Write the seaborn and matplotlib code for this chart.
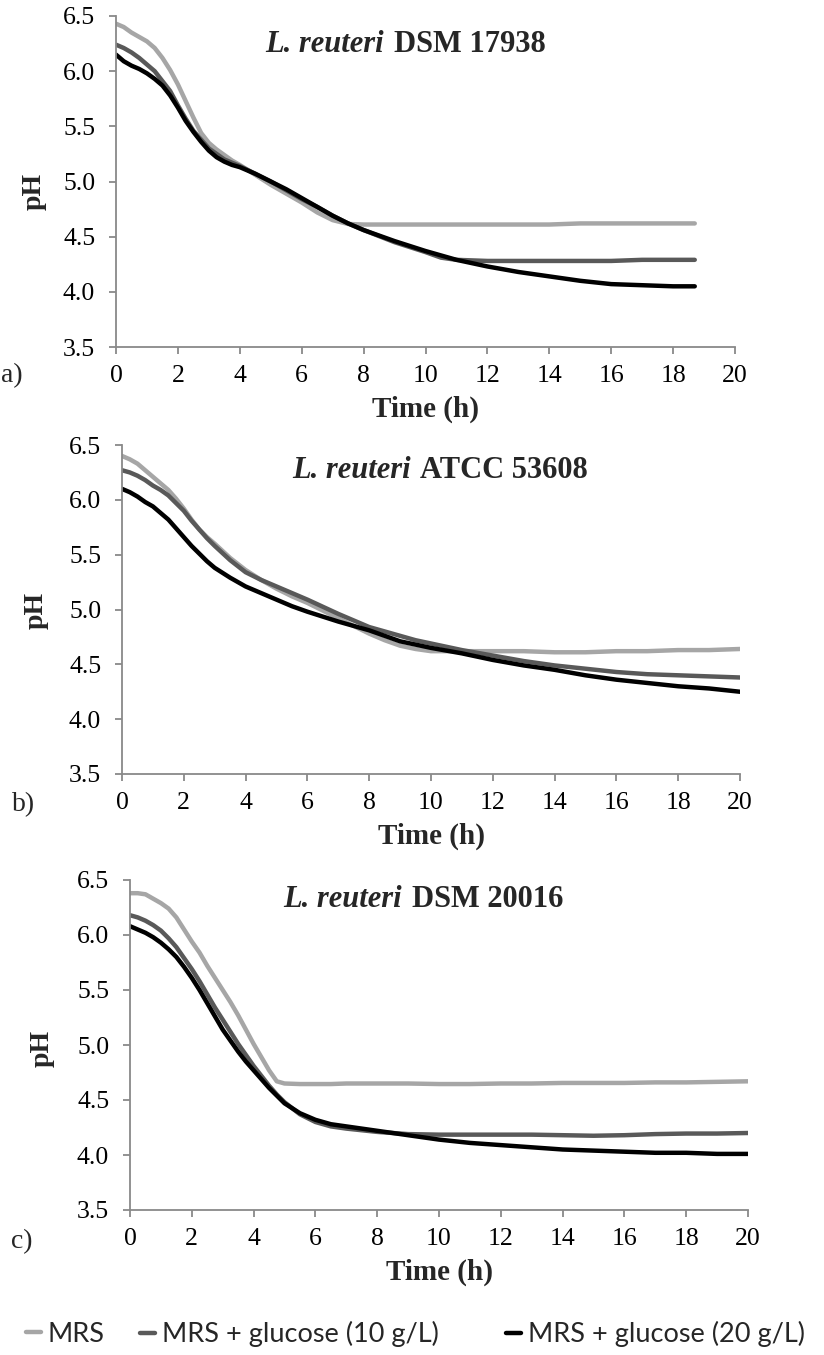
import matplotlib
matplotlib.use("Agg")
import matplotlib.pyplot as plt
from matplotlib.lines import Line2D
import pandas as pd
import seaborn as sns

conditions = ["MRS", "MRS + glucose (10 g/L)", "MRS + glucose (20 g/L)"]
colors = ["#a6a6a6", "#595959", "#000000"]

# Panel a: L. reuteri DSM 17938
time_a = [0, 0.25, 0.5, 0.75, 1, 1.25, 1.5, 1.75, 2, 2.25, 2.5, 2.75, 3, 3.25, 3.5, 3.75, 4,
          4.5, 5, 5.5, 6, 6.5, 7, 7.5, 8, 9, 10, 10.5, 11, 12, 13, 14, 15, 16, 17, 18, 18.7]
mrs_a = [6.43, 6.40, 6.35, 6.31, 6.27, 6.21, 6.12, 6.01, 5.88, 5.73, 5.58, 5.44, 5.35, 5.29, 5.24, 5.19, 5.15,
         5.06, 4.97, 4.89, 4.81, 4.72, 4.65, 4.615, 4.61, 4.61, 4.61, 4.61, 4.61,
         4.61, 4.61, 4.61, 4.62, 4.62, 4.62, 4.62, 4.62]
g10_a = [6.24, 6.21, 6.17, 6.12, 6.06, 6.00, 5.91, 5.82, 5.69, 5.57, 5.46, 5.38, 5.30, 5.25, 5.20, 5.17, 5.14,
         5.07, 5.00, 4.92, 4.84, 4.77, 4.69, 4.62, 4.56, 4.45, 4.36, 4.31, 4.29,
         4.28, 4.28, 4.28, 4.28, 4.28, 4.29, 4.29, 4.29]
g20_a = [6.15, 6.09, 6.05, 6.02, 5.98, 5.93, 5.87, 5.78, 5.67, 5.55, 5.45, 5.36, 5.28, 5.22, 5.18, 5.15, 5.13,
         5.07, 5.00, 4.93, 4.85, 4.77, 4.69, 4.62, 4.56, 4.46, 4.37, 4.33, 4.29,
         4.23, 4.18, 4.14, 4.10, 4.07, 4.06, 4.05, 4.05]

# Panel b: L. reuteri ATCC 53608
time_b = [0, 0.25, 0.5, 0.75, 1, 1.25, 1.5, 1.75, 2, 2.25, 2.5, 2.75, 3,
          3.5, 4, 4.5, 5, 5.5, 6, 7, 8, 8.5, 9, 9.5, 10,
          11, 12, 13, 14, 15, 16, 17, 18, 19, 20]
mrs_b = [6.40, 6.37, 6.33, 6.27, 6.21, 6.15, 6.09, 6.01, 5.92, 5.82, 5.73, 5.66, 5.60,
         5.47, 5.36, 5.27, 5.19, 5.12, 5.06, 4.92, 4.78, 4.72, 4.67, 4.64, 4.62,
         4.62, 4.62, 4.62, 4.61, 4.61, 4.62, 4.62, 4.63, 4.63, 4.64]
g10_b = [6.27, 6.25, 6.22, 6.18, 6.13, 6.09, 6.04, 5.97, 5.90, 5.81, 5.73, 5.65, 5.58,
         5.45, 5.34, 5.27, 5.21, 5.15, 5.09, 4.96, 4.84, 4.80, 4.76, 4.72, 4.69,
         4.63, 4.58, 4.53, 4.49, 4.46, 4.43, 4.41, 4.40, 4.39, 4.38]
g20_b = [6.10, 6.07, 6.03, 5.98, 5.94, 5.88, 5.82, 5.74, 5.66, 5.58, 5.51, 5.44, 5.38,
         5.29, 5.21, 5.15, 5.09, 5.03, 4.98, 4.89, 4.81, 4.76, 4.71, 4.68, 4.65,
         4.60, 4.54, 4.49, 4.45, 4.40, 4.36, 4.33, 4.30, 4.28, 4.25]

# Panel c: L. reuteri DSM 20016
time_c = [0, 0.25, 0.5, 0.75, 1, 1.25, 1.5, 1.75, 2, 2.25, 2.5, 2.75, 3, 3.25, 3.5, 3.75, 4,
          4.25, 4.5, 4.75, 5, 5.5, 6, 6.5, 7, 8, 9, 10, 11, 12, 13, 14, 15, 16, 17, 18, 19, 20]
mrs_c = [6.38, 6.38, 6.37, 6.33, 6.29, 6.24, 6.16, 6.05, 5.94, 5.84, 5.72, 5.61, 5.50, 5.39, 5.27, 5.14, 5.01,
         4.89, 4.77, 4.67, 4.65, 4.645, 4.645, 4.645, 4.65, 4.65,
         4.65, 4.645, 4.645, 4.65, 4.65, 4.655, 4.655, 4.655, 4.66, 4.66, 4.665, 4.67]
g10_c = [6.18, 6.16, 6.13, 6.09, 6.04, 5.97, 5.89, 5.79, 5.69, 5.58, 5.46, 5.34, 5.23, 5.12, 5.01, 4.91, 4.81,
         4.72, 4.63, 4.55, 4.48, 4.37, 4.30, 4.26, 4.24, 4.21,
         4.19, 4.185, 4.185, 4.185, 4.185, 4.18, 4.175, 4.18, 4.19, 4.195, 4.195, 4.20]
g20_c = [6.08, 6.05, 6.02, 5.98, 5.93, 5.87, 5.80, 5.71, 5.61, 5.50, 5.38, 5.26, 5.14, 5.04, 4.94, 4.85, 4.77,
         4.69, 4.61, 4.54, 4.47, 4.38, 4.32, 4.28, 4.26, 4.22,
         4.18, 4.14, 4.11, 4.09, 4.07, 4.05, 4.04, 4.03, 4.02, 4.02, 4.01, 4.01]

strains = ["DSM 17938", "ATCC 53608", "DSM 20016"]
panel_letters = ["a)", "b)", "c)"]
x_ticks = list(range(0, 21, 2))
y_ticks = [3.5, 4.0, 4.5, 5.0, 5.5, 6.0, 6.5]

panels = [
    (time_a, [mrs_a, g10_a, g20_a]),
    (time_b, [mrs_b, g10_b, g20_b]),
    (time_c, [mrs_c, g10_c, g20_c]),
]

sns.set_theme(style="white")
plt.rcParams["font.family"] = ["Liberation Serif", "DejaVu Serif"]

W, H = 824, 1355
fig = plt.figure(figsize=(W / 100, H / 100), dpi=100)

boxes = [(116, 16, 735, 347), (122, 445, 740, 774), (130, 880, 748, 1210)]
title_pos = [(0.241, 0.891), (0.275, 0.900), (0.248, 0.918)]
ylabel_pos = [(-0.112, 0.471), (-0.118, 0.498), (-0.122, 0.491)]
letter_pos = [(1, 376), (12, 805), (11, 1242)]

spine_col = "#898989"
for i, (t, series) in enumerate(panels):
    l, tp, r, b = boxes[i]
    ax = fig.add_axes([l / W, 1 - b / H, (r - l) / W, (b - tp) / H])
    rows = []
    for cond, vals in zip(conditions, series):
        for tt, v in zip(t, vals):
            rows.append({"Time (h)": tt, "pH": v, "cond": cond})
    df = pd.DataFrame(rows)
    sns.lineplot(data=df, x="Time (h)", y="pH", hue="cond", hue_order=conditions,
                 palette=colors, linewidth=3.2, ax=ax, legend=False,
                 estimator=None, sort=False)
    ax.set_xlim(0, 20)
    ax.set_ylim(3.5, 6.5)
    ax.set_xticks(x_ticks)
    ax.set_yticks(y_ticks)
    ax.set_yticklabels([f"{v:.1f}" for v in y_ticks])
    for s in ["top", "right"]:
        ax.spines[s].set_visible(False)
    for s in ["left", "bottom"]:
        ax.spines[s].set_color(spine_col)
        ax.spines[s].set_linewidth(1.3)
    ax.tick_params(axis="both", direction="out", length=5, width=1.3, color=spine_col,
                   labelsize=18.5, labelcolor="black", bottom=True, left=True)
    ax.tick_params(axis="x", pad=8)
    ax.tick_params(axis="y", pad=10)
    ax.set_xlabel("Time (h)", fontsize=21, fontweight="bold", labelpad=6)
    ax.set_ylabel("pH", fontsize=20, fontweight="bold")
    ax.yaxis.set_label_coords(*ylabel_pos[i])
    tx, ty = title_pos[i]
    t1 = ax.text(tx, ty, "L. reuteri", transform=ax.transAxes, fontsize=22,
                 fontweight="bold", fontstyle="italic", ha="left", va="baseline")
    ax.annotate(strains[i], xy=(1, 0), xycoords=t1, xytext=(7, 0),
                textcoords="offset points", fontsize=22, fontweight="bold",
                ha="left", va="bottom")
    lx, ly = letter_pos[i]
    fig.text(lx / W, 1 - ly / H, panel_letters[i], fontsize=20, ha="left", va="center")

# legend: one entry each, anchored at the reference positions
leg_x = [26, 140, 506]
for c, lab, x0 in zip(colors, conditions, leg_x):
    h = [Line2D([0], [0], color=c, lw=3.2)]
    fig.legend(h, [lab], loc="center left", bbox_to_anchor=(x0 / W, 1 - 1334 / H),
               frameon=False, handlelength=0.55, handletextpad=0.25,
               borderpad=0, borderaxespad=0,
               prop={"family": "Lato", "size": 19.5})

fig.savefig("out.png", dpi=100)
